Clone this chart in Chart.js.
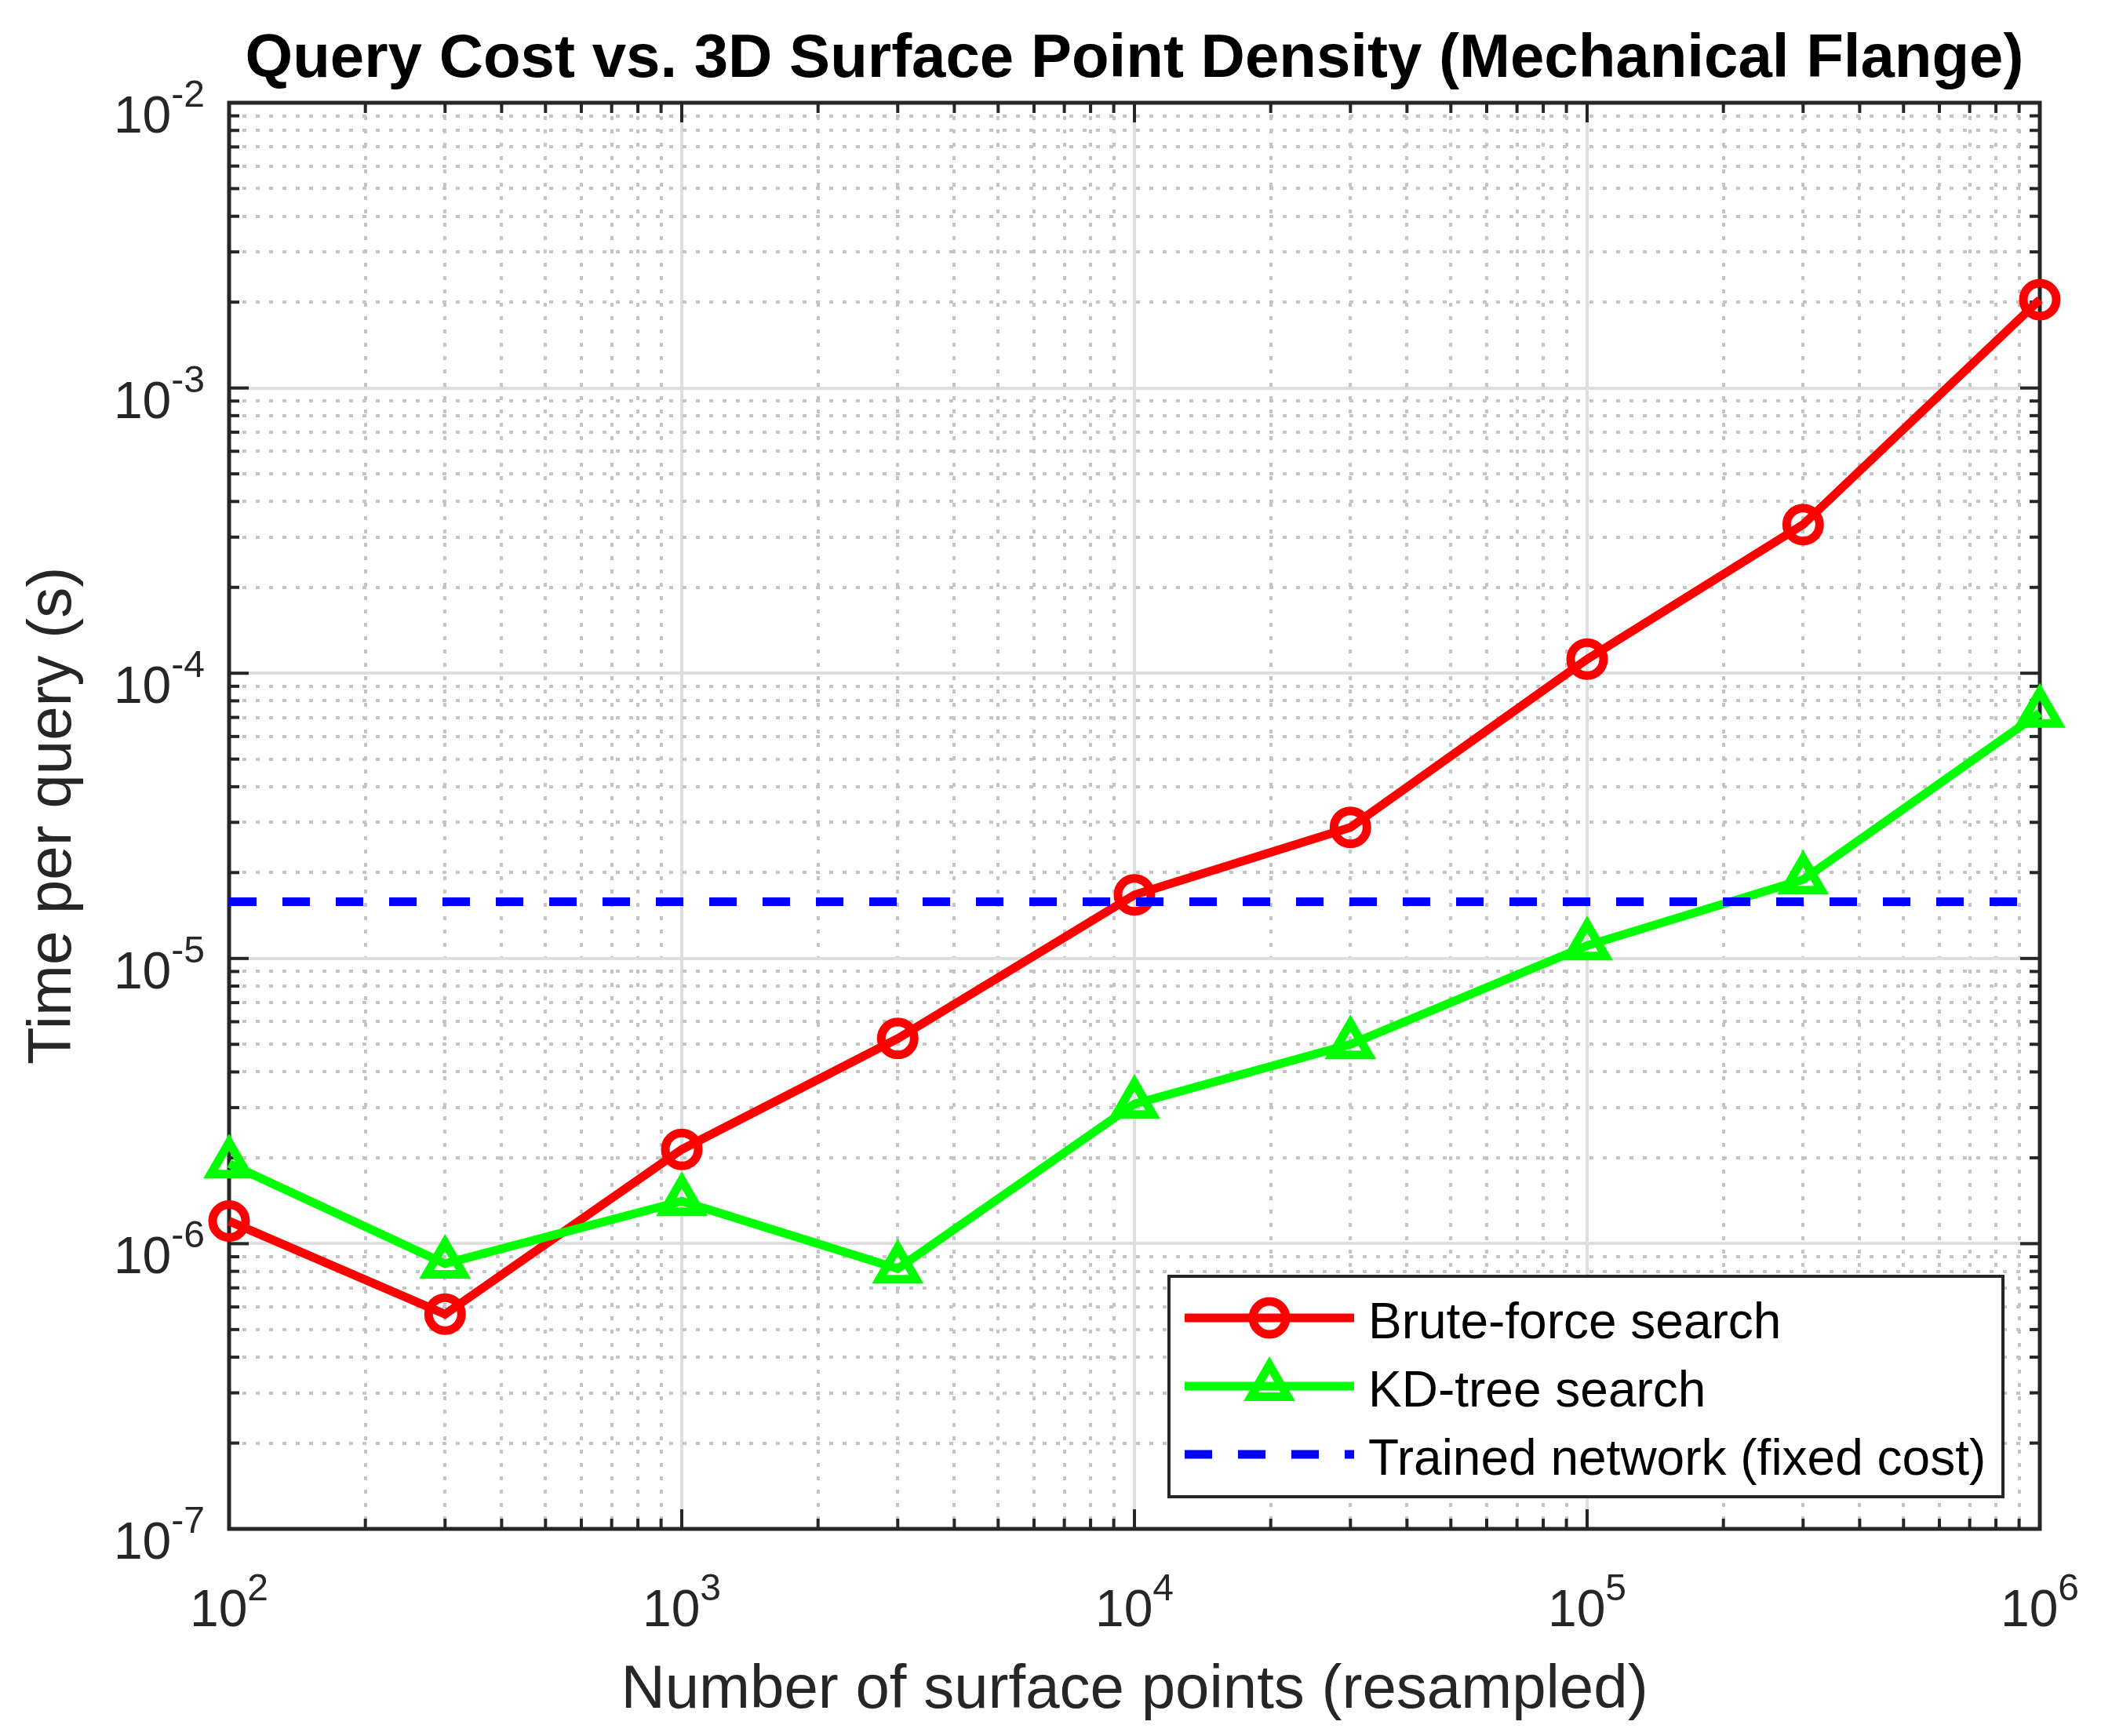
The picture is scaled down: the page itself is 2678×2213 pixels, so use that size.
<!DOCTYPE html>
<html>
<head>
<meta charset="utf-8">
<title>Query Cost vs. 3D Surface Point Density</title>
<script src="https://cdn.jsdelivr.net/npm/chart.js@4.4.1/dist/chart.umd.min.js"></script>
<style>
  html, body { margin: 0; padding: 0; background: #ffffff; }
  canvas { display: block; }
</style>
</head>
<body>
<canvas id="flange" width="2678" height="2213"></canvas>
<script>
// values
const pointCounts = [100, 300, 1000, 3000, 10000, 30000, 100000, 300000, 1000000];
const bruteForce = [1.20e-6, 5.66e-7, 2.14e-6, 5.24e-6, 1.67e-5, 2.88e-5, 1.12e-4, 3.32e-4, 2.04e-3];
const kdTree = [1.91e-6, 8.51e-7, 1.41e-6, 8.17e-7, 3.09e-6, 5.00e-6, 1.11e-5, 1.89e-5, 7.26e-5];
const networkCost = 1.58e-5;
const networkSpan = [100, 1000000];

const xExponents = [2, 3, 4, 5, 6];
const yExponents = [-7, -6, -5, -4, -3, -2];

const seriesNames = ['Brute-force search', 'KD-tree search', 'Trained network (fixed cost)'];
const titleText = 'Query Cost vs. 3D Surface Point Density (Mechanical Flange)';
const xTitle = 'Number of surface points (resampled)';
const yTitle = 'Time per query (s)';

const FAMILY = '"Liberation Sans", Arial, Helvetica, sans-serif';
const AXIS_COLOR = '#262626';
const LINE_W = 11;
const DASH = [35, 33];

// log ticks at 1..9 x 10^e, major on the powers of ten
function decadeTicks(exps) {
  const ticks = [];
  for (let i = 0; i < exps.length; i++) {
    const e = exps[i];
    const last = i === exps.length - 1;
    for (let m = 1; m <= (last ? 1 : 9); m++) {
      ticks.push({ value: parseFloat((m * Math.pow(10, e)).toPrecision(12)), major: m === 1 });
    }
  }
  return ticks;
}

const gridColor = c => (c.tick && c.tick.major) ? '#dedede' : '#c4c4c4';
const gridDash = c => (c.tick && c.tick.major) ? [] : [5, 12];

function line(ctx, x1, y1, x2, y2) {
  ctx.beginPath();
  ctx.moveTo(x1, y1);
  ctx.lineTo(x2, y2);
  ctx.stroke();
}

function drawPow(ctx, exp, x, baseY, align) {
  ctx.font = '66px ' + FAMILY;
  const w1 = ctx.measureText('10').width;
  ctx.font = '48px ' + FAMILY;
  const sup = String(exp);
  const w2 = ctx.measureText(sup).width;
  const left = align === 'center' ? x - (w1 + w2) / 2 : x - (w1 + w2);
  ctx.textAlign = 'left';
  ctx.font = '66px ' + FAMILY;
  ctx.fillText('10', left, baseY);
  ctx.font = '48px ' + FAMILY;
  ctx.fillText(sup, left + w1, baseY - 33);
}

function drawMarker(ctx, style, x, y, r) {
  ctx.beginPath();
  if (style === 'circle') {
    ctx.arc(x, y, r, 0, Math.PI * 2);
  } else {
    let rad = 0;
    ctx.moveTo(x + Math.sin(rad) * r, y - Math.cos(rad) * r);
    rad += Math.PI * 2 / 3;
    ctx.lineTo(x + Math.sin(rad) * r, y - Math.cos(rad) * r);
    rad += Math.PI * 2 / 3;
    ctx.lineTo(x + Math.sin(rad) * r, y - Math.cos(rad) * r);
    ctx.closePath();
  }
  ctx.stroke();
}

const frame = {
  id: 'frame',
  beforeDatasetsDraw(chart) {
    const { ctx, chartArea: a, scales: { x, y } } = chart;
    ctx.save();
    ctx.strokeStyle = AXIS_COLOR;
    ctx.lineWidth = 4;
    x.ticks.forEach(t => {
      const p = x.getPixelForValue(t.value);
      const len = t.major ? 25 : 13;
      line(ctx, p, a.bottom, p, a.bottom - len);
      line(ctx, p, a.top, p, a.top + len);
    });
    y.ticks.forEach(t => {
      const p = y.getPixelForValue(t.value);
      const len = t.major ? 25 : 13;
      line(ctx, a.left, p, a.left + len, p);
      line(ctx, a.right, p, a.right - len, p);
    });
    ctx.lineWidth = 5;
    ctx.strokeRect(a.left, a.top, a.right - a.left, a.bottom - a.top);
    ctx.restore();
  },
  afterDraw(chart) {
    const { ctx, chartArea: a, scales: { x, y } } = chart;
    const cx = (a.left + a.right) / 2;
    const cy = (a.top + a.bottom) / 2;
    ctx.save();

    // tick labels
    ctx.fillStyle = AXIS_COLOR;
    ctx.textBaseline = 'alphabetic';
    xExponents.forEach(e => drawPow(ctx, e, x.getPixelForValue(Math.pow(10, e)), a.bottom + 124, 'center'));
    yExponents.forEach(e => drawPow(ctx, e, a.left - 31, y.getPixelForValue(Math.pow(10, e)) + 38, 'right'));

    // axis titles
    ctx.font = '78px ' + FAMILY;
    ctx.textAlign = 'center';
    ctx.fillText(xTitle, cx, a.bottom + 228);
    ctx.save();
    ctx.translate(90, cy);
    ctx.rotate(-Math.PI / 2);
    ctx.fillText(yTitle, 0, 0);
    ctx.restore();

    // title
    ctx.fillStyle = '#000000';
    ctx.font = 'bold 78px ' + FAMILY;
    ctx.fillText(titleText, cx, 98);

    // legend
    const box = { left: 1490, top: 1627, right: 2553, bottom: 1908 };
    ctx.fillStyle = '#ffffff';
    ctx.fillRect(box.left, box.top, box.right - box.left, box.bottom - box.top);
    ctx.strokeStyle = AXIS_COLOR;
    ctx.lineWidth = 4;
    ctx.strokeRect(box.left, box.top, box.right - box.left, box.bottom - box.top);
    const rows = [1680, 1767, 1854];
    const sx1 = 1510, sx2 = 1726;
    chart.data.datasets.forEach((ds, i) => {
      const ry = rows[i];
      ctx.strokeStyle = ds.borderColor;
      ctx.lineWidth = ds.borderWidth;
      ctx.setLineDash(ds.borderDash || []);
      line(ctx, sx1, ry, sx2, ry);
      ctx.setLineDash([]);
      if (ds.pointRadius > 0) {
        ctx.lineWidth = ds.pointBorderWidth;
        drawMarker(ctx, ds.pointStyle, (sx1 + sx2) / 2, ry, ds.pointRadius);
      }
      ctx.fillStyle = '#000000';
      ctx.font = '64px ' + FAMILY;
      ctx.textAlign = 'left';
      ctx.fillText(seriesNames[i], 1744, ry + 26);
    });
    ctx.restore();
  }
};

const toPoints = (xs, ys) => xs.map((v, i) => ({ x: v, y: ys[i] }));

new Chart(document.getElementById('flange'), {
  type: 'line',
  data: {
    datasets: [{
      label: seriesNames[0],
      data: toPoints(pointCounts, bruteForce),
      borderColor: '#ff0000',
      borderWidth: LINE_W,
      pointStyle: 'circle',
      pointRadius: 21,
      pointBorderWidth: LINE_W,
      pointBorderColor: '#ff0000',
      pointBackgroundColor: 'rgba(0,0,0,0)',
      clip: false,
      order: 3
    }, {
      label: seriesNames[1],
      data: toPoints(pointCounts, kdTree),
      borderColor: '#00ff00',
      borderWidth: LINE_W,
      pointStyle: 'triangle',
      pointRadius: 27,
      pointBorderWidth: LINE_W,
      pointBorderColor: '#00ff00',
      pointBackgroundColor: 'rgba(0,0,0,0)',
      clip: false,
      order: 2
    }, {
      label: seriesNames[2],
      data: networkSpan.map(v => ({ x: v, y: networkCost })),
      borderColor: '#0000ff',
      borderWidth: LINE_W,
      borderDash: DASH,
      borderCapStyle: 'butt',
      pointRadius: 0,
      order: 1
    }]
  },
  options: {
    responsive: false,
    devicePixelRatio: 1,
    animation: false,
    layout: { padding: { left: 292, right: 78, top: 131, bottom: 264 } },
    plugins: { legend: { display: false }, tooltip: { enabled: false }, title: { display: false } },
    elements: { line: { tension: 0 } },
    scales: {
      x: {
        type: 'logarithmic',
        min: 100,
        max: 1000000,
        ticks: { display: false },
        grid: { color: gridColor, lineWidth: 4, drawTicks: false },
        border: { display: false, dash: gridDash },
        afterBuildTicks: s => { s.ticks = decadeTicks(xExponents); },
        afterFit: s => { s.height = 0; }
      },
      y: {
        type: 'logarithmic',
        min: 1e-7,
        max: 1e-2,
        ticks: { display: false },
        grid: { color: gridColor, lineWidth: 4, drawTicks: false },
        border: { display: false, dash: gridDash },
        afterBuildTicks: s => { s.ticks = decadeTicks(yExponents); },
        afterFit: s => { s.width = 0; }
      }
    }
  },
  plugins: [frame]
});
</script>
</body>
</html>
